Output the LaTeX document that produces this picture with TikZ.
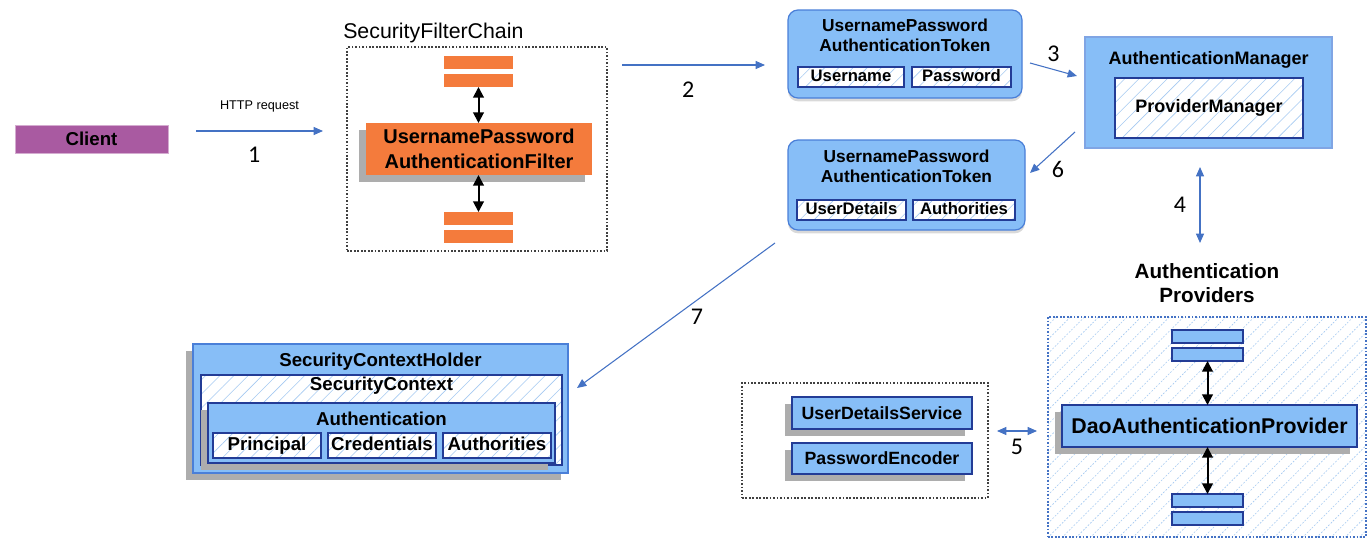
\documentclass[tikz,border=0pt]{standalone}
\usepackage{fontspec}
\setmainfont{Liberation Sans}
\newfontfamily\numfont{Carlito}
\usepackage{tikz}
\usetikzlibrary{positioning, arrows.meta, patterns.meta, shadows}

\definecolor{clientpurple}{RGB}{169,90,161}
\definecolor{filterorange}{RGB}{244,123,60}
\definecolor{boxblue}{RGB}{135,190,247}
\definecolor{edgeblue}{RGB}{74,127,216}
\definecolor{navy}{RGB}{35,60,150}
\definecolor{arrowblue}{RGB}{68,114,196}
\definecolor{hatchblue}{RGB}{165,202,242}

\newcommand{\fsz}[1]{\fontsize{#1}{1.2\dimexpr#1pt\relax}\selectfont}

\begin{document}
\begin{tikzpicture}[x=0.75pt, y=-0.75pt, >={Triangle[length=7pt,width=6pt]},
    box/.style={rectangle, draw, inner sep=0pt, outer sep=0pt, align=center},
    bluebox/.style={box, fill=boxblue, draw=navy, line width=0.9pt},
    hatched/.style={box, draw=navy, line width=0.9pt, preaction={fill=white},
        pattern={Lines[angle=45, distance=7.5pt, line width=0.45pt]}, pattern color=hatchblue},
    grouping/.style={box, draw=black!75, dash pattern=on 1.3pt off 1.3pt, line width=1.1pt},
    casting/.style={drop shadow={shadow xshift=-5pt, shadow yshift=-5.5pt, fill=black!32, opacity=1}},
    token/.style={box, rounded corners=7.5pt, fill=boxblue, draw=edgeblue, line width=0.9pt,
        drop shadow={shadow xshift=0pt, shadow yshift=-2.5pt, fill=black!15, opacity=1}},
    field/.style={hatched, minimum height=15pt, text height=1.6ex, text depth=0.3ex, font=\fsz{12.5}\bfseries},
    ofield/.style={hatched, minimum height=18.75pt, text height=1.6ex, text depth=0.3ex, font=\fsz{14}\bfseries},
    obar/.style={box, draw=none, fill=filterorange, minimum width=51.75pt, minimum height=9.75pt},
    bbar/.style={bluebox, minimum width=53.25pt, minimum height=9.75pt},
    flow/.style={->, draw=arrowblue, line width=0.8pt},
    twoway/.style={<->, draw=arrowblue, line width=0.8pt},
    link/.style={{Triangle[length=8pt,width=8pt]}-{Triangle[length=8pt,width=8pt]}, line width=1.5pt},
    numlabel/.style={font=\numfont\fsz{18}}]

    \useasboundingbox (0,0) rectangle (1371,553);

    % client
    \node (client) [box, fill=clientpurple, draw=clientpurple!50, minimum width=114.75pt, minimum height=21pt, font=\fsz{14}\bfseries] at (91.5,139) {Client};

    % security filter chain
    \node (chain) [grouping, minimum width=195pt, minimum height=153pt] at (477,149) {};
    \node (chainname) [anchor=west, inner sep=0pt, font=\fsz{16}] at (343,33) {SecurityFilterChain};
    \node (fb1) [obar] at (478.5,62.5) {};
    \node (fb2) [obar, below=3.75pt of fb1] {};
    \node (filter) [box, casting, fill=filterorange, draw=none, minimum width=169.5pt, minimum height=39pt, font=\fontsize{15}{18.75}\selectfont\bfseries] at (479,149) {UsernamePassword\\AuthenticationFilter};
    \node (fb3) [obar] at (478.5,218.5) {};
    \node (fb4) [obar, below=3.75pt of fb3] {};
    \draw[link] (fb2) -- (fb2 |- filter.north);
    \draw[link] (filter.south -| fb3) -- (fb3);

    % tokens
    \node (tokin) [token, minimum width=175.5pt, minimum height=66pt] at (905,54) {};
    \node (tokinname) [align=center, font=\fontsize{13}{15}\selectfont\bfseries] at (905,35) {UsernamePassword\\AuthenticationToken};
    \node (username) [field, minimum width=79.5pt] at (851,77) {Username};
    \node (password) [field, minimum width=74.25pt] at (961.5,77) {Password};

    \node (tokout) [token, minimum width=177.75pt, minimum height=67.5pt] at (906.5,185) {};
    \node (tokoutname) [align=center, font=\fontsize{13}{15}\selectfont\bfseries] at (906.5,166) {UsernamePassword\\AuthenticationToken};
    \node (userdetails) [field, minimum width=81.75pt] at (851.5,210) {UserDetails};
    \node (granted) [field, minimum width=76.5pt] at (964,210) {Authorities};

    % authentication manager
    \node (manager) [box, fill=boxblue, draw=edgeblue!70, line width=0.8pt, minimum width=185.25pt, minimum height=83.25pt] at (1208.5,92.5) {};
    \node (managername) [font=\fsz{13.5}\bfseries] at (1208.5,60) {AuthenticationManager};
    \node (providermgr) [hatched, minimum width=141pt, minimum height=45pt, font=\fsz{13.5}\bfseries] at (1209,108) {ProviderManager};

    % authentication providers
    \node (provname) [align=center, font=\fontsize{15.5}{18}\selectfont\bfseries] at (1207,283) {Authentication\\Providers};
    \node (providers) [hatched, draw=arrowblue, dash pattern=on 1.3pt off 1.3pt, line width=1.1pt, minimum width=238.5pt, minimum height=165pt] at (1207,427) {};
    \node (pb1) [bbar] at (1207.5,336.5) {};
    \node (pb2) [bbar, below=3.75pt of pb1] {};
    \node (dao) [bluebox, casting, minimum width=221.25pt, minimum height=31.5pt, font=\fsz{16}\bfseries] at (1209.5,426) {DaoAuthenticationProvider};
    \node (pb3) [bbar] at (1207.5,500.5) {};
    \node (pb4) [bbar, below=3.75pt of pb3] {};
    \draw[link] (pb2) -- (pb2 |- dao.north);
    \draw[link] (dao.south -| pb3) -- (pb3);

    % user details service
    \node (services) [grouping, minimum width=184.5pt, minimum height=86.25pt] at (865,440.5) {};
    \node (uds) [bluebox, casting, minimum width=135pt, minimum height=24pt, font=\fsz{13.3}\bfseries] at (882,413) {UserDetailsService};
    \node (encoder) [bluebox, casting, minimum width=135pt, minimum height=23.25pt, font=\fsz{13.3}\bfseries] at (882,458.5) {PasswordEncoder};

    % security context holder
    \node (holder) [box, casting, fill=boxblue, draw=edgeblue, line width=0.9pt, minimum width=281.25pt, minimum height=96.75pt] at (380.5,408.5) {};
    \node (holdername) [font=\fsz{14}\bfseries] at (380.5,362) {SecurityContextHolder};
    \node (context) [hatched, minimum width=270.75pt, minimum height=67.5pt] at (381.5,420) {};
    \node (contextname) [font=\fsz{14}\bfseries] at (381.5,386) {SecurityContext};
    \node (authn) [bluebox, casting, minimum width=260.25pt, minimum height=45pt] at (381.5,433) {};
    \node (authnname) [font=\fsz{14}\bfseries] at (381.5,419) {Authentication};
    \node (principal) [ofield, minimum width=81pt] at (267,445.5) {Principal};
    \node (credentials) [ofield, minimum width=81pt] at (382,445.5) {Credentials};
    \node (authorities) [ofield, minimum width=81pt] at (497,445.5) {Authorities};

    % numbered steps
    \coordinate (s1a) at (196,131);  \coordinate (s1b) at (323,131);
    \coordinate (s2a) at (622,65);   \coordinate (s2b) at (765,65);
    \coordinate (s3a) at (1030,63);  \coordinate (s3b) at (1077,76);
    \coordinate (s4a) at (1200,167); \coordinate (s4b) at (1200,243);
    \coordinate (s5a) at (997,431);  \coordinate (s5b) at (1037,431);
    \coordinate (s6a) at (1075,132); \coordinate (s6b) at (1030,173);
    \coordinate (s7a) at (775,243);  \coordinate (s7b) at (577,388);

    \draw[flow] (s1a) -- node[yshift=18.75pt, font=\fsz{9.5}] {HTTP request} node[numlabel, xshift=-4pt, yshift=-18pt] {1} (s1b);
    \draw[flow] (s2a) -- node[numlabel, xshift=-4pt, yshift=-18.75pt] {2} (s2b);
    \draw[flow] (s3a) -- node[numlabel, yshift=12pt] {3} (s3b);
    \draw[twoway] (s4a) -- node[numlabel, xshift=-15pt] {4} (s4b);
    \draw[twoway] (s5a) -- node[numlabel, yshift=-12pt] {5} (s5b);
    \draw[flow] (s6a) -- node[numlabel, xshift=4pt, yshift=-13pt] {6} (s6b);
    \draw[flow] (s7a) -- node[numlabel, xshift=15.75pt, yshift=-1pt] {7} (s7b);
\end{tikzpicture}
\end{document}
